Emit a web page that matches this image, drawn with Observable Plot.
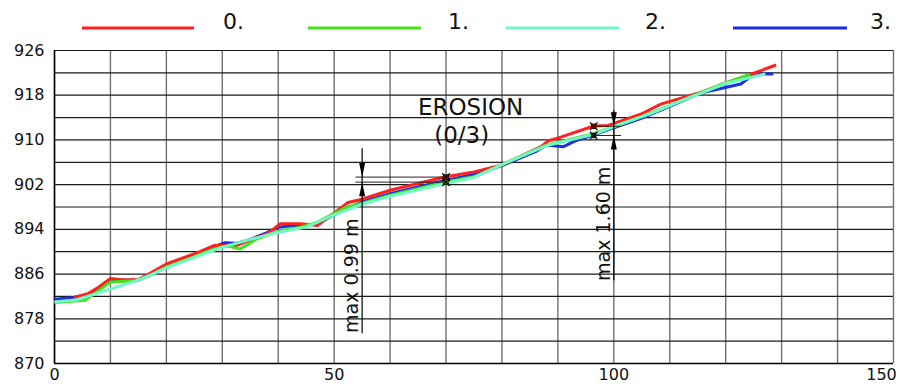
<!DOCTYPE html>
<html><head><meta charset="utf-8">
<script src="https://cdn.jsdelivr.net/npm/d3@7"></script>
<script src="https://cdn.jsdelivr.net/npm/@observablehq/plot@0.6"></script>
<style>
body{margin:0;background:#fff;font-family:"DejaVu Sans",sans-serif;}
svg{display:block;}
</style>
</head><body><div id="chart"></div>
<script>
// ---- data ----
const seriesNames = ["0.", "1.", "2.", "3."];
const seriesColors = ["#ff1f1f", "#45e21a", "#72f7c6", "#1a2ee6"];

// series 0. (red)
const x0 = [3.5, 6, 7.5, 10, 12, 15, 17, 20, 26, 28.5, 32.5, 35.5, 38, 40.4, 44, 47, 51, 52.5, 55, 60, 70, 74.7, 80, 87, 88.2, 90.5, 96.4, 99, 104.8, 108.4, 115.5, 124.4, 129];
const y0 = [881.8, 882.5, 883.4, 885.2, 885.0, 885.0, 886.1, 887.8, 890.0, 891.1, 891.1, 892.3, 893.2, 895.0, 895.0, 894.7, 897.7, 898.8, 899.4, 901.0, 903.4, 904.2, 905.5, 908.8, 909.8, 910.5, 912.5, 912.6, 914.6, 916.4, 918.5, 921.7, 923.4];
// series 1. (green)
const x1 = [0, 5.5, 10, 14.5, 17, 20, 25, 28.5, 31, 33.2, 36, 40, 44, 47, 52, 55, 60, 70, 75, 80, 88, 96.4, 100, 106.6, 112, 119.6, 124.4];
const y1 = [880.9, 881.3, 884.6, 884.8, 885.7, 887.3, 889.1, 890.5, 891.0, 890.5, 892.2, 893.7, 894.4, 895.3, 897.9, 898.7, 900.1, 902.5, 903.4, 905.6, 909.1, 911.1, 912.4, 914.8, 917.0, 920.1, 921.7];
// series 2. (aquamarine)
const x2 = [0, 4, 15.5, 20, 25, 30, 35, 40, 45, 50, 55, 60, 70, 75, 80, 88, 96.4, 100, 106.6, 112, 120, 127.1];
const y2 = [881.0, 881.4, 885.1, 887.1, 889.0, 890.8, 892.2, 893.5, 894.4, 896.6, 898.5, 899.9, 902.2, 903.3, 905.6, 909.0, 911.0, 912.4, 914.7, 917.0, 920.1, 921.8];
// series 3. (blue)
const x3 = [0, 3.5, 6, 7.5, 10, 12, 15, 17, 20, 26, 28.5, 30.5, 32.5, 35, 38, 40, 44, 47, 49, 52, 55, 60, 70, 75, 80, 86, 88, 91, 93, 96.4, 99.4, 104.8, 110, 115.5, 122.7, 124.4, 126.3, 128.5];
const y3 = [881.5, 881.8, 882.4, 883.2, 885.0, 884.9, 884.9, 885.9, 887.6, 889.8, 890.9, 891.6, 891.5, 892.2, 893.4, 894.4, 894.8, 894.9, 896.1, 897.6, 898.9, 900.4, 902.8, 903.8, 905.4, 907.9, 909.1, 908.8, 909.8, 910.9, 912.0, 913.8, 916.0, 918.4, 920.0, 921.3, 921.8, 921.8];

// axis ticks
const xTicks = [0, 50, 100];
const xTickLast = [150];
const yTicks = [870, 878, 886, 894, 902, 910, 918, 926];
const xGrid = d3.range(0, 151, 10);
const yGrid = d3.range(870, 927, 4);

// erosion markers
const markX = [70, 70, 96.4, 96.4];
const markY = [903.35, 902.45, 912.45, 910.8];
const markSeries = ["0.", "1.", "0.", "3."];

// measurement annotations
const measX = [55, 100];
const measTop = [903.35, 912.45];
const measBot = [902.45, 910.8];
const measLineTop = [908.5, 915.3];
const measLineBot = [875.4, 884.9];
const tickFrom = [53.8, 96.4];
const tickTo = [70, 101.3];
const measLabels = ["max 0.99 m", "max 1.60 m"];
const measLabelY = [885.7, 895.0];

// title annotation
const titleLines = ["EROSION", "(0/3)"];
const titleX = [74.4, 72.8];
const titleY = [914.4, 909.4];

// ---- legend ----
const W = 907;
const legendPos = [{l: 82, r: 194, t: 223}, {l: 308, r: 421, t: 448}, {l: 506, r: 619, t: 645}, {l: 733, r: 847, t: 870}];
const leg = d3.create("svg").attr("width", W).attr("height", 40);
seriesNames.forEach((n, i) => {
  leg.append("line").attr("x1", legendPos[i].l).attr("x2", legendPos[i].r)
    .attr("y1", 28).attr("y2", 28).attr("stroke", seriesColors[i]).attr("stroke-width", 3);
  leg.append("text").attr("x", legendPos[i].t).attr("y", 28.5).text(n)
    .attr("font-family", "DejaVu Sans").attr("font-size", 22).attr("fill", "#111");
});
document.getElementById("chart").append(leg.node());

// ---- chart ----
const rows = (xs, ys, s) => xs.map((x, i) => ({x, y: ys[i], s}));
const downArrow = {draw(ctx) { ctx.moveTo(0, 0); ctx.lineTo(-3, -14); ctx.lineTo(3, -14); ctx.closePath(); }};
const upArrow = {draw(ctx) { ctx.moveTo(0, 0); ctx.lineTo(-3, 14); ctx.lineTo(3, 14); ctx.closePath(); }};
const idx2 = [0, 1];
const idx4 = [0, 1, 2, 3];
const lineOpts = {x: "x", y: "y", stroke: "s", strokeWidth: 3, strokeLinejoin: "round", strokeLinecap: "butt"};

const chart = Plot.plot({
  width: W, height: 344,
  marginLeft: 54, marginRight: 14, marginTop: 10, marginBottom: 21,
  style: {fontFamily: "DejaVu Sans", fontSize: "16px", background: "white", color: "#111"},
  x: {domain: [0, 150]},
  y: {domain: [870, 926]},
  color: {domain: seriesNames, range: seriesColors},
  marks: [
    Plot.ruleX(xGrid, {stroke: "#707070", strokeWidth: 1.4}),
    Plot.ruleY(yGrid, {stroke: "#1a1a1a", strokeWidth: 1.2}),
    Plot.ruleX([0], {stroke: "#000", strokeWidth: 1.5}),
    Plot.ruleY([870], {stroke: "#000", strokeWidth: 1.5}),
    Plot.axisY({ticks: yTicks, tickSize: 0, tickPadding: 10, fontSize: 16, label: null}),
    Plot.axisX({ticks: xTicks, tickSize: 0, tickPadding: 5, fontSize: 16, label: null}),
    Plot.axisX({ticks: xTickLast, tickSize: 0, tickPadding: 5, fontSize: 16, label: null, dx: -12}),
    Plot.line(rows(x3, y3, "3."), lineOpts),
    Plot.line(rows(x0, y0, "0."), lineOpts),
    Plot.line(rows(x1, y1, "1."), lineOpts),
    Plot.line(rows(x2, y2, "2."), lineOpts),
    // measurement lines
    Plot.link(idx2, {x1: i => tickFrom[i], x2: i => tickTo[i], y1: i => measTop[i], y2: i => measTop[i], stroke: "#222", strokeWidth: 1}),
    Plot.link(idx2, {x1: i => tickFrom[i], x2: i => tickTo[i], y1: i => measBot[i], y2: i => measBot[i], stroke: "#222", strokeWidth: 1}),
    Plot.link(idx2, {x1: i => measX[i], x2: i => measX[i], y1: i => measLineTop[i], y2: i => measLineBot[i], stroke: "#000", strokeWidth: 1.2}),
    Plot.dot(idx2, {x: i => measX[i], y: i => measTop[i], symbol: downArrow, fill: "#000", stroke: "none"}),
    Plot.dot(idx2, {x: i => measX[i], y: i => measBot[i], symbol: upArrow, fill: "#000", stroke: "none"}),
    // erosion markers
    Plot.dot(idx4, {x: i => markX[i], y: i => markY[i], symbol: "square", r: 2.6, fill: i => markSeries[i], stroke: "#000", strokeWidth: 0.8}),
    Plot.dot(idx4, {x: i => markX[i], y: i => markY[i], symbol: "times", r: 3.6, stroke: "#000", strokeWidth: 1.2}),
    // labels
    Plot.text(idx2, {x: i => measX[i], y: i => measLabelY[i], text: i => measLabels[i], rotate: -90, lineAnchor: "bottom", textAnchor: "middle", dx: -4, fontSize: 19, fill: "#111"}),
    Plot.text(idx2, {x: i => titleX[i], y: i => titleY[i], text: i => titleLines[i], lineAnchor: "bottom", textAnchor: "middle", fontSize: 23, fill: "#111"})
  ]
});
document.getElementById("chart").append(chart);
</script>
</body></html>
